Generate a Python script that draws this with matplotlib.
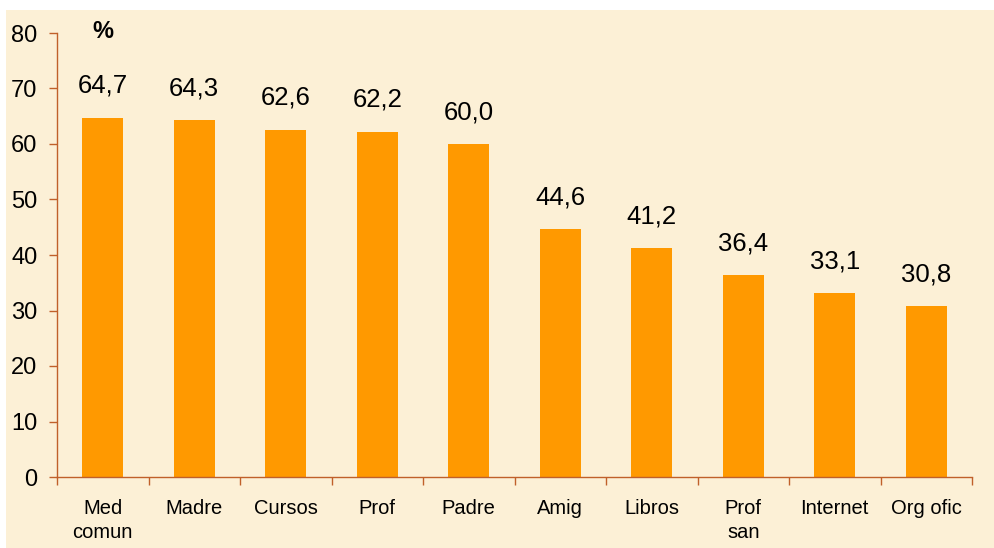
import matplotlib.pyplot as plt
import matplotlib.patches as patches
import numpy as np

# fuentes de informacion sobre salud (%)
categorias = ['Med\ncomun', 'Madre', 'Cursos', 'Prof', 'Padre', 'Amig',
              'Libros', 'Prof\nsan', 'Internet', 'Org ofic']
valores = [64.7, 64.3, 62.6, 62.2, 60.0, 44.6, 41.2, 36.4, 33.1, 30.8]

plt.rcParams['font.family'] = ['Liberation Sans', 'DejaVu Sans']

fondo = '#FCF0D6'
naranja = '#FF9900'
eje = '#C0602A'

fig = plt.figure(figsize=(9.95, 5.48), dpi=100)
fig.patch.set_facecolor('white')
# fondo tipo pergamino, dejando un margen blanco arriba y a la izquierda
fig.patches.append(patches.Rectangle((6 / 995, 0), 1, 1 - 10 / 548,
                                     transform=fig.transFigure,
                                     facecolor=fondo, edgecolor='none',
                                     zorder=-10))

ax = fig.add_axes([57 / 995, 1 - 477 / 548, (972 - 57) / 995, (477 - 33) / 548])
ax.set_facecolor('none')

x = np.arange(len(categorias))
ax.bar(x, valores, width=0.45, color=naranja, edgecolor='none', zorder=2)

for xi, v in zip(x, valores):
    ax.text(xi, v + 3.6, f'{v:.1f}'.replace('.', ','), ha='center',
            va='bottom', fontsize=18.5, color='black')

ax.set_xlim(-0.5, len(categorias) - 0.5)
ax.set_ylim(0, 80)
ax.set_yticks(range(0, 81, 10))
ax.tick_params(axis='y', labelsize=17, length=6, color=eje, width=1, pad=8)

# marcas del eje x entre categorias, etiquetas centradas en cada barra
ax.set_xticks(np.arange(-0.5, len(categorias), 1))
ax.set_xticklabels([])
ax.set_xticks(x, minor=True)
ax.set_xticklabels(categorias, minor=True, fontsize=14.5)
ax.tick_params(axis='x', which='major', length=6, color=eje, width=1)
ax.tick_params(axis='x', which='minor', length=0, pad=16)
for lab in ax.get_xticklabels(minor=True):
    lab.set_linespacing(1.35)

for s in ['top', 'right']:
    ax.spines[s].set_visible(False)
for s in ['left', 'bottom']:
    ax.spines[s].set_color(eje)
    ax.spines[s].set_linewidth(1)

ax.text(0, 80.3, '%', ha='center', va='center', fontsize=17,
        fontweight='bold')

fig.savefig('out.png', dpi=100)
